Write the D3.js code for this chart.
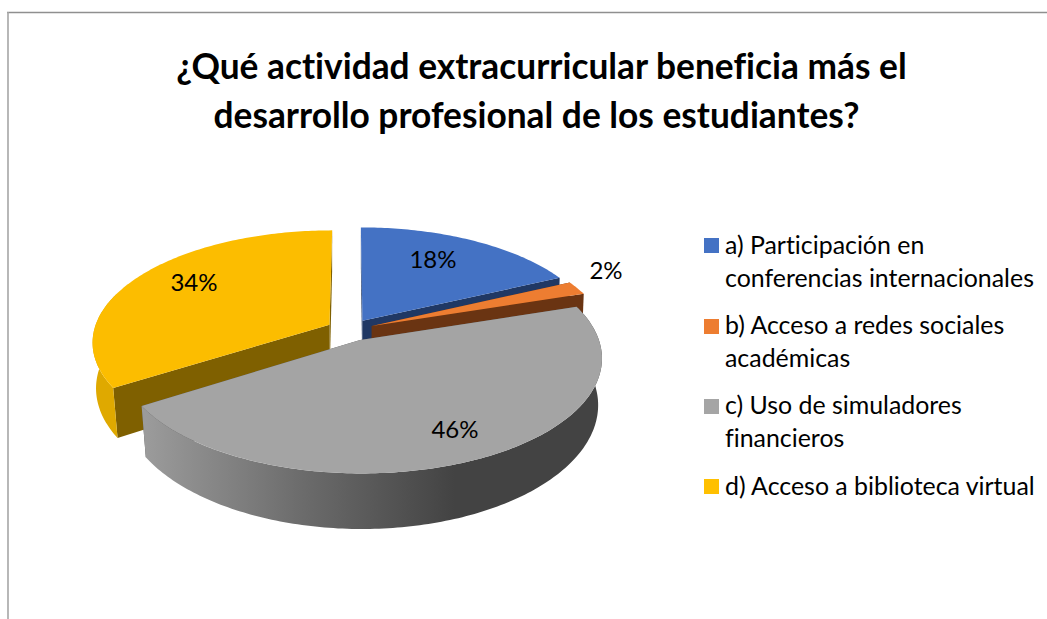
<!DOCTYPE html>
<html><head><meta charset="utf-8">
<script src="https://cdn.jsdelivr.net/npm/d3@7/dist/d3.min.js"></script>
<style>html,body{margin:0;padding:0;background:#fff}svg{display:block}text{font-family:Lato,"Open Sans",sans-serif;fill:#000;font-variant-ligatures:none}</style>
</head><body><svg id="c" width="1047" height="619"></svg>
<script>
const titleLines = ["¿Qué actividad extracurricular beneficia más el","desarrollo profesional de los estudiantes?"];
const categories = ["a) Participación en|conferencias internacionales","b) Acceso a redes sociales|académicas","c) Uso de simuladores|financieros","d) Acceso a biblioteca virtual"];
const values = [18,2,46,34];
const topColors = ["#4472c4","#ed7d31","#a4a4a4","#fcbd00"];
const faceColors = ["#203864","#6a3412","#525252","#7f6000"];
const wallColors = ["#2f528f","#ae5a21","url(#wall)","#dfa900"];
const legendColors = ["#4472c4","#ed7d31","#a5a5a5","#ffc000"];

const W=1047,H=619, CX=350, CY=330, RX=235.5, RY=110, PERSP=0.15, EXPLODE=0.1, THICK=46.5;
const svg=d3.select("#c");
const x=d3.scaleLinear().domain([-1,1]).range([CX-RX,CX+RX]);
const y=d3.scaleLinear().domain([-1,1]).range([CY+RY,CY-RY]);
function proj(X,Y,lower){
  const s=1/(1+PERSP*Y);
  let px=x(X*s), py=y(Y*s);
  if(lower){px+=(CX-px)*(0.012-0.013*Y); py+=THICK*s;}
  return [px,py];
}
const defs=svg.append("defs");
const g=defs.append("linearGradient").attr("id","wall").attr("gradientUnits","userSpaceOnUse")
  .attr("x1",146).attr("x2",455).attr("y1",0).attr("y2",0);
g.append("stop").attr("offset",0).attr("stop-color","#9b9b9b");
g.append("stop").attr("offset",0.5).attr("stop-color","#6c6c6c");
g.append("stop").attr("offset",1).attr("stop-color","#434343");

// frame
svg.append("line").attr("x1",7).attr("x2",1047).attr("y1",12.5).attr("y2",12.5).attr("stroke","#8f8f8f").attr("stroke-width",1.3);
svg.append("line").attr("x1",8).attr("x2",8).attr("y1",12).attr("y2",619).attr("stroke","#a6a6a6").attr("stroke-width",1.6);

// title
const titleY=[79,128], titleX=[541.5,536.5];
svg.selectAll("text.t").data(titleLines).join("text").attr("class","t")
  .attr("x",(d,i)=>titleX[i]).attr("y",(d,i)=>titleY[i]).attr("text-anchor","middle")
  .attr("font-size",35.3).attr("font-weight",700).text(d=>d);

// pie
const arcs=d3.pie().sort(null).value(d=>d)(values);
const line=d3.line();
const order=[0,1,3,2];
order.forEach(i=>{
  const a=arcs[i], mid=(a.startAngle+a.endAngle)/2;
  const ox=EXPLODE*Math.sin(mid), oy=EXPLODE*Math.cos(mid);
  const n=Math.max(4,Math.round((a.endAngle-a.startAngle)*60));
  const angs=d3.range(n+1).map(k=>a.startAngle+(a.endAngle-a.startAngle)*k/n);
  const rim=angs.map(t=>[ox+Math.sin(t),oy+Math.cos(t)]);
  const top=rim.map(p=>proj(p[0],p[1],false));
  const bot=rim.map(p=>proj(p[0],p[1],true));
  const apexT=proj(ox,oy,false), apexB=proj(ox,oy,true);
  const sl=svg.append("g");
  [0,n].forEach(k=>{
    sl.append("path").attr("d",line([apexT,top[k],bot[k],apexB])+"Z").attr("fill",faceColors[i]);
  });
  const front=angs.map((t,k)=>k).filter(k=>Math.cos(angs[k])<0.3);
  if(front.length>1){
    const ft=front.map(k=>top[k]), fb=front.map(k=>bot[k]).reverse();
    sl.append("path").attr("d",line(ft.concat(fb))+"Z").attr("fill",wallColors[i]);
  }
  sl.append("path").attr("d",line([apexT,...top])+"Z").attr("fill",topColors[i]);
});

// data labels
const labelX=[433,606,455,194], labelY=[268,279,438,291];
svg.selectAll("text.l").data(values).join("text").attr("class","l")
  .attr("x",(d,i)=>labelX[i]).attr("y",(d,i)=>labelY[i]).attr("text-anchor","middle")
  .attr("font-size",24).text(d=>d+"%");

// legend
const swatchY=[238,319,399,479], line1Y=[254,334,414,495];
categories.forEach((c,i)=>{
  svg.append("rect").attr("x",704).attr("y",swatchY[i]).attr("width",15).attr("height",15).attr("fill",legendColors[i]);
  c.split("|").forEach((t,j)=>{
    svg.append("text").attr("x",725).attr("y",line1Y[i]+j*32.5).attr("font-size",24.9).text(t);
  });
});
</script></body></html>
